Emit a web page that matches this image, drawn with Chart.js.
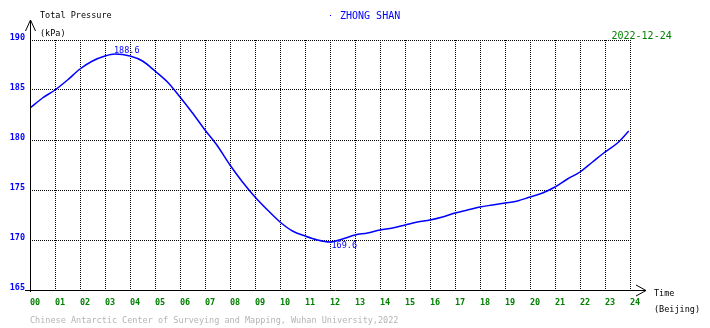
<!DOCTYPE html>
<html>
<head>
<meta charset="utf-8">
<script src="https://cdn.jsdelivr.net/npm/chart.js@4/dist/chart.umd.min.js"></script>
<style>
  html, body { margin: 0; padding: 0; background: #fff; }
  canvas { display: block; }
</style>
</head>
<body>
<canvas id="chart" width="710" height="328"></canvas>
<script>
// ── data ──
const hours = [0, 0.5, 1, 1.5, 2, 2.5, 3, 3.4, 4, 4.5, 5, 5.5, 6, 6.5, 7, 7.5, 8, 8.5, 9, 9.5,
  10, 10.5, 11, 11.5, 12, 12.5, 13, 13.5, 14, 14.5, 15, 15.5, 16, 16.5, 17, 17.5, 18, 18.5,
  19, 19.5, 20, 20.5, 21, 21.5, 22, 22.5, 23, 23.5, 23.95];
const pressure = [183.2, 184.2, 185.0, 186.0, 187.1, 187.9, 188.4, 188.6, 188.4, 187.9, 186.9, 185.8,
  184.3, 182.7, 181.0, 179.4, 177.5, 175.8, 174.3, 173.0, 171.8, 170.9, 170.4, 170.0, 169.8, 170.1,
  170.5, 170.7, 171.0, 171.2, 171.5, 171.8, 172.0, 172.3, 172.7, 173.0, 173.3, 173.5, 173.7, 173.9,
  174.3, 174.7, 175.3, 176.1, 176.8, 177.8, 178.8, 179.7, 180.9];

// max / min markers
const extremeHours  = [3.4, 12.1];
const extremeValues = [188.6, 169.6];

const yTicks = [165, 170, 175, 180, 185, 190];
const hourLabels = ['00','01','02','03','04','05','06','07','08','09','10','11','12',
  '13','14','15','16','17','18','19','20','21','22','23','24'];

const MONO = "'DejaVu Sans Mono', monospace";
const BLUE = '#0000ff';
const GREEN = '#008000';

const overlay = {
  id: 'overlay',
  afterDraw(chart) {
    const { ctx, chartArea: a, scales: { x, y } } = chart;
    ctx.save();

    // axes with open arrow heads
    ctx.strokeStyle = '#000';
    ctx.lineWidth = 1;
    ctx.beginPath();
    ctx.moveTo(a.left + 0.5, a.bottom + 2);
    ctx.lineTo(a.left + 0.5, 20);
    ctx.moveTo(a.left - 4.5, 31);
    ctx.lineTo(a.left + 0.5, 20);
    ctx.lineTo(a.left + 5.5, 31);
    ctx.moveTo(a.left - 5, a.bottom + 0.5);
    ctx.lineTo(a.right + 16, a.bottom + 0.5);
    ctx.moveTo(a.right + 6, a.bottom - 5);
    ctx.lineTo(a.right + 16, a.bottom + 0.5);
    ctx.lineTo(a.right + 6, a.bottom + 6);
    ctx.stroke();

    ctx.textBaseline = 'middle';
    ctx.textAlign = 'left';

    ctx.font = `8.5px ${MONO}`;
    ctx.fillStyle = '#000';
    ctx.fillText('Total Pressure', 40, 16);
    ctx.fillText('(kPa)', 40, 34);
    ctx.fillText('Time', 654, 294);
    ctx.fillText('(Beijing)', 654, 309.5);

    ctx.fillStyle = '#b4b4b4';
    ctx.fillText('Chinese Antarctic Center of Surveying and Mapping, Wuhan University,2022', 30, 320.5);

    ctx.font = `10px ${MONO}`;
    ctx.fillStyle = BLUE;
    ctx.fillRect(330, 15, 1, 1);
    ctx.fillText('ZHONG SHAN', 340, 16.5);
    ctx.fillStyle = GREEN;
    ctx.fillText('2022-12-24', 611.5, 36.5);

    // extreme labels
    ctx.font = `8.5px ${MONO}`;
    ctx.fillStyle = BLUE;
    extremeHours.forEach((h, i) => {
      const px = x.getPixelForValue(h);
      const py = y.getPixelForValue(extremeValues[i]);
      const label = extremeValues[i].toFixed(1);
      if (i === 0) {
        ctx.textBaseline = 'alphabetic';
        ctx.fillText(label, px - 1, py - 1);
      } else {
        ctx.textBaseline = 'top';
        ctx.fillText(label, px - 1, py - 2);
      }
    });
    ctx.restore();
  }
};

new Chart(document.getElementById('chart'), {
  type: 'line',
  data: {
    datasets: [{
      data: hours.map((h, i) => ({ x: h, y: pressure[i] })),
      borderColor: BLUE,
      borderWidth: 1.5,
      pointRadius: 0,
      cubicInterpolationMode: 'monotone',
      fill: false,
    }]
  },
  options: {
    responsive: false,
    animation: false,
    devicePixelRatio: 1,
    layout: { padding: { top: 40, right: 80, left: 0, bottom: 0 } },
    plugins: { legend: { display: false }, tooltip: { enabled: false } },
    scales: {
      x: {
        type: 'linear',
        min: 0, max: 24,
        afterFit: s => { s.height = 38; },
        afterBuildTicks: s => { s.ticks = hourLabels.map((_, i) => ({ value: i })); },
        grid: { color: '#000', lineWidth: 1, drawTicks: false },
        border: { display: false, dash: [1, 1] },
        ticks: {
          align: 'start',
          autoSkip: false,
          maxRotation: 0,
          padding: 8,
          color: GREEN,
          font: { family: MONO, size: 8.5, weight: 'bold' },
          callback: (v) => hourLabels[v],
        }
      },
      y: {
        min: 165, max: 190,
        afterFit: s => { s.width = 30; },
        afterBuildTicks: s => { s.ticks = yTicks.map(v => ({ value: v })); },
        grid: { color: '#000', lineWidth: 1, drawTicks: false },
        border: { display: false, dash: [1, 1] },
        ticks: {
          padding: 5,
          labelOffset: -2,
          color: BLUE,
          font: { family: MONO, size: 8.5, weight: 'bold' },
        }
      }
    }
  },
  plugins: [overlay]
});
</script>
</body>
</html>
